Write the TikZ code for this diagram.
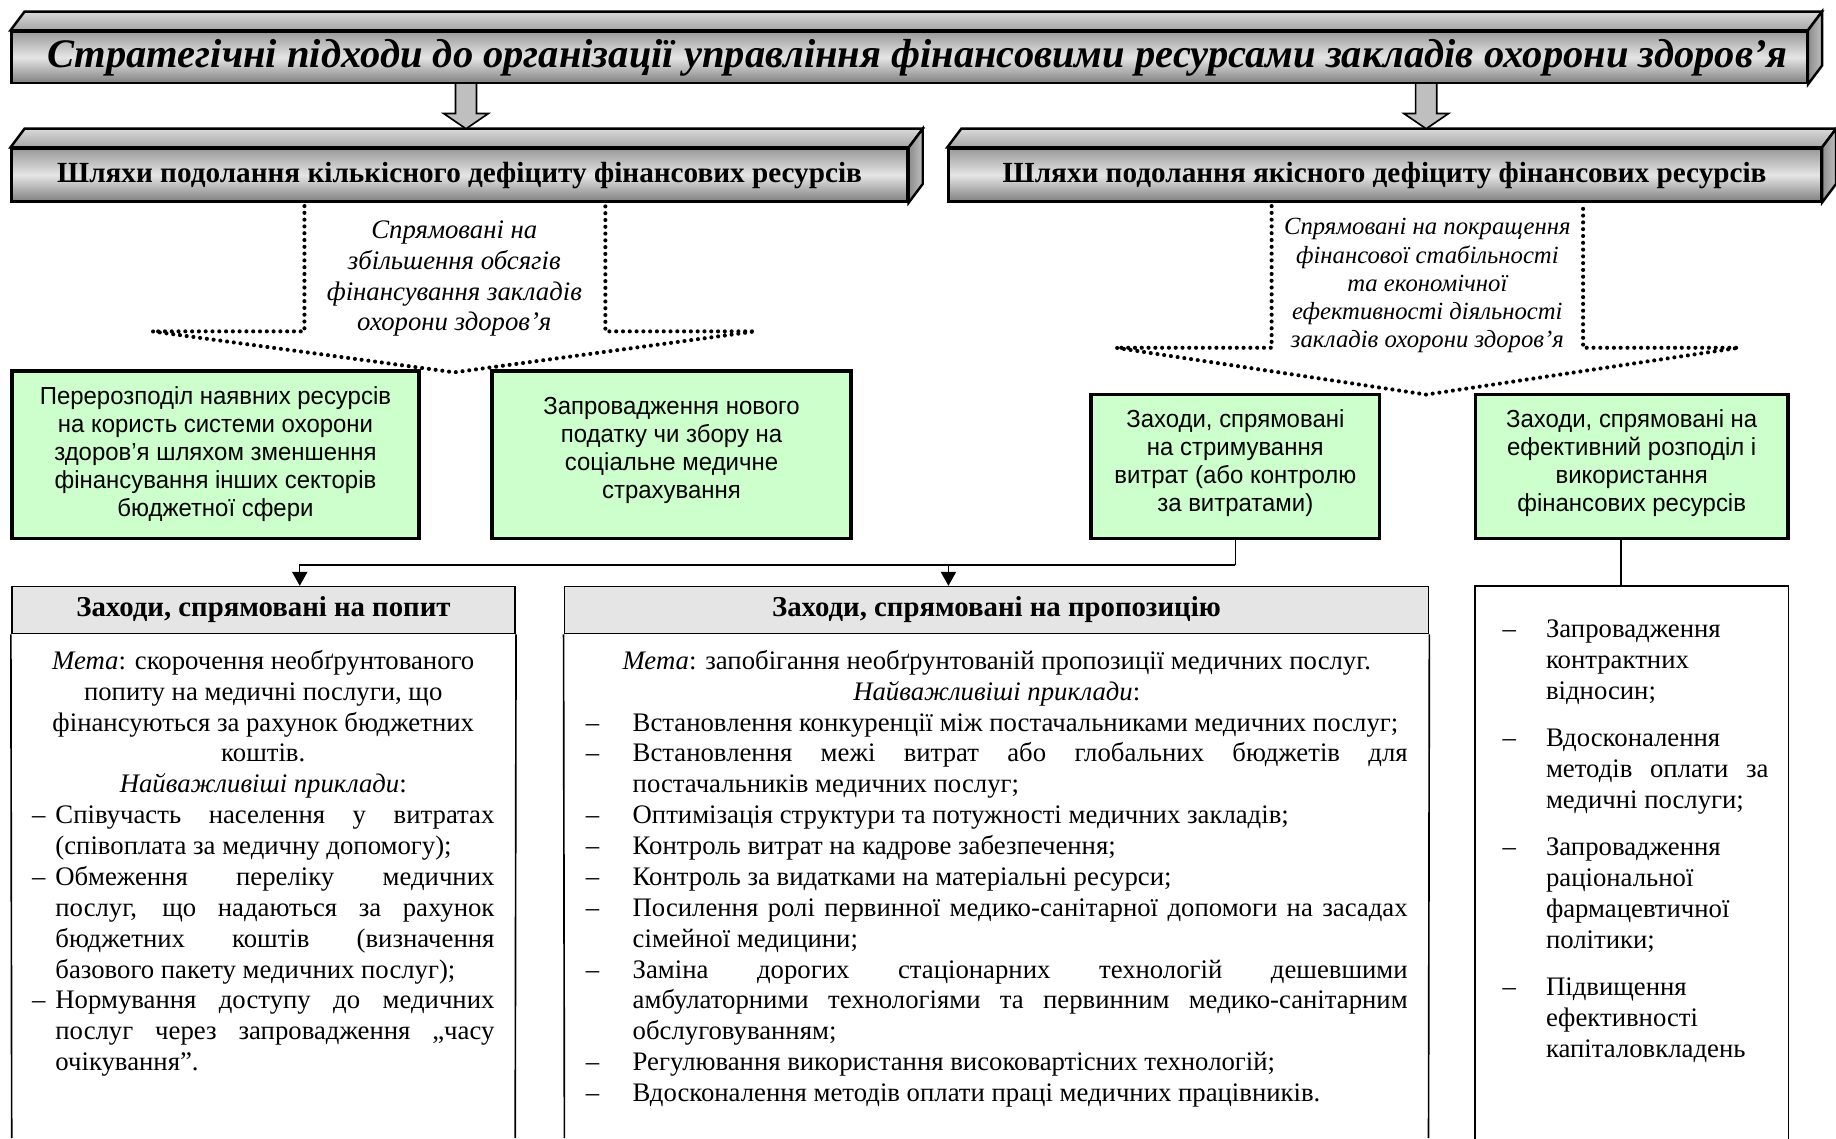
\documentclass[tikz,border=0pt]{standalone}
\usepackage{fontspec}
\setmainfont{Liberation Serif}
\setsansfont{Liberation Sans}
\newfontfamily\narrowsans[FakeStretch=0.97]{Liberation Sans}
\usetikzlibrary{arrows.meta,fit}
\definecolor{greenfill}{RGB}{204,255,204}
\newcommand{\dashitem}[2]{\par\hangindent=#1\hangafter=1\noindent\makebox[#1][l]{–}#2\par}

\begin{document}
\begin{tikzpicture}[x=0.02cm, y=-0.02cm,
  bannerface/.style={draw=black, line width=1.2pt, inner sep=0pt,
    top color=black!40, bottom color=black!50, middle color=black!10},
  topface/.style={draw=black, line width=1.2pt, top color=black!15, bottom color=black!35},
  sideface/.style={draw=black, line width=1.2pt, left color=black!45, right color=black!25},
  bannertext/.style={font=\bfseries\fontsize{14.2}{16}\selectfont},
  blockarrow/.style={draw=black, line width=0.8pt, fill=black!25},
  dotline/.style={line width=2pt, dash pattern=on 0pt off 3.3pt, line cap=round},
  aimtext/.style={align=center, font=\itshape\fontsize{13}{15}\selectfont},
  greenbox/.style={draw=black, line width=1.8pt, fill=greenfill, inner sep=0pt},
  greentext/.style={align=center, font=\narrowsans\fontsize{12}{13.6}\selectfont},
  headbox/.style={draw=black, line width=0.8pt, fill=black!10, inner sep=0pt},
  headtext/.style={font=\bfseries\fontsize{14}{16}\selectfont},
  boxline/.style={line width=0.8pt},
  link/.style={line width=0.7pt},
  tip/.style={-{Triangle[width=7.4pt,length=6.8pt]}},
  bodytext/.style={anchor=north west, inner sep=0pt}
]
  % Define parameters
  \def\dx{12}      % horizontal depth of the bevels
  \def\dy{16}      % vertical depth of the bevels
  \def\ybottom{972} % lower edge of the picture

  \useasboundingbox (0,0) rectangle (1568,\ybottom);

  % Draw the banners
  \node[bannerface, fit={(10,27) (1543,71)}] (title) {};
  \node[bannerface, fit={(10,127) (775,172)}] (qtyway) {};
  \node[bannerface, fit={(810,127) (1555,172)}] (qualway) {};

  % Bevels of the banners
  \foreach \b in {title, qtyway, qualway} {
    \path[topface] (\b.north west) -- ++(\dx,-\dy)
      -- ([shift={(\dx,-\dy)}]\b.north east) -- (\b.north east) -- cycle;
    \path[sideface] (\b.north east) -- ([shift={(\dx,-\dy)}]\b.north east)
      -- ([shift={(\dx,-\dy)}]\b.south east) -- (\b.south east) -- cycle;
  }

  % Banner labels
  \node[font=\bfseries\itshape\fontsize{19.7}{22}\selectfont] (titletext)
    at ([shift={(7,0)}]title.center)
    {Стратегічні підходи до організації управління фінансовими ресурсами закладів охорони здоров’я};
  \node[bannertext] (qtytext) at (qtyway.center)
    {Шляхи подолання кількісного дефіциту фінансових ресурсів};
  \node[bannertext] (qualtext) at (qualway.center)
    {Шляхи подолання якісного дефіциту фінансових ресурсів};

  % Block arrows from the title
  \foreach \x in {398, 1218} {
    \draw[blockarrow] (\x-9,71) -- (\x-9,97) -- (\x-19,97) -- (\x,110)
      -- (\x+19,97) -- (\x+9,97) -- (\x+9,71) -- cycle;
  }

  % Dotted callouts
  \draw[dotline] (260,176) -- (260,283) -- (130,283) -- (388,318)
    -- (645,283) -- (517,283) -- (517,176);
  \draw[dotline] (1086,176) -- (1086,297) -- (953,297) -- (1218,337)
    -- (1485,297) -- (1352,297) -- (1352,176);
  \node[aimtext] (qtyaim) at (388,238)
    {Спрямовані на\\збільшення обсягів\\фінансування закладів\\охорони здоров’я};
  \node[aimtext, font=\itshape\fontsize{12}{13.7}\selectfont] (qualaim) at (1219,244)
    {Спрямовані на покращення\\фінансової стабільності\\та економічної\\ефективності діяльності\\закладів охорони здоров’я};

  % Green boxes
  \node[greenbox, fit={(10,317) (358,460)}] (redistr) {};
  \node[greenbox, fit={(420,317) (727,460)}] (newtax) {};
  \node[greenbox, fit={(932,337) (1178,460)}] (cost) {};
  \node[greenbox, fit={(1260,337) (1527,460)}] (alloc) {};
  \node[greentext] (redistrtext) at ([shift={(0,-1)}]redistr.center)
    {Перерозподіл наявних ресурсів\\на користь системи охорони\\здоров’я шляхом зменшення\\фінансування інших секторів\\бюджетної сфери};
  \node[greentext] (newtaxtext) at ([shift={(0,-4)}]newtax.center)
    {Запровадження нового\\податку чи збору на\\соціальне медичне\\страхування};
  \node[greentext] (costtext) at ([shift={(0,-3)}]cost.center)
    {Заходи, спрямовані\\на стримування\\витрат (або контролю\\за витратами)};
  \node[greentext] (alloctext) at ([shift={(0,-3)}]alloc.center)
    {Заходи, спрямовані на\\ефективний розподіл і\\використання\\фінансових ресурсів};

  % Lower boxes
  \node[headbox, fit={(10,501) (440,541)}] (demandhead) {};
  \node[headbox, fit={(482,501) (1220,541)}] (supplyhead) {};
  \node[inner sep=0pt, fit={(1260,501) (1527,\ybottom)}] (toolsbox) {};
  \node[headtext] (demandtitle) at (demandhead.center) {Заходи, спрямовані на попит};
  \node[headtext] (supplytitle) at (supplyhead.center) {Заходи, спрямовані на пропозицію};
  \draw[boxline] (demandhead.south west) -- (10,\ybottom);
  \draw[boxline] (demandhead.south east) -- (440,\ybottom);
  \draw[boxline] (supplyhead.south west) -- (482,\ybottom);
  \draw[boxline] (supplyhead.south east) -- (1220,\ybottom);
  \draw[boxline] (toolsbox.south west) |- (toolsbox.north east) -- (toolsbox.south east);

  % Connectors
  \draw[link] (cost.south) -- ++(0,21) coordinate (split);
  \draw[link, tip] (split) -| ([shift={(31,0)}]demandhead.north);
  \draw[link, tip] (split) -| ([shift={(-41,0)}]supplyhead.north);
  \draw[link] ([shift={(-9,0)}]alloc.south) -- ([shift={(-9,0)}]toolsbox.north);

  % Texts of the lower boxes
  \node[bodytext] (demandtxt) at (27,555) {\begin{minipage}{7.9cm}
    \fontsize{13}{15}\selectfont\tolerance=10000\hbadness=10000
    \hyphenpenalty=10000\exhyphenpenalty=10000
    {\centering \textit{Мета}: скорочення необґрунтованого\\
    попиту на медичні послуги, що\\
    фінансуються за рахунок бюджетних\\
    коштів.\\
    \textit{Найважливіші приклади}:\par}
    \dashitem{0.4cm}{Співучасть населення у витратах\linebreak
      (співоплата за медичну допомогу);}
    \dashitem{0.4cm}{Обмеження переліку медичних\linebreak
      послуг, що надаються за рахунок\linebreak
      бюджетних коштів (визначення\linebreak
      базового пакету медичних послуг);}
    \dashitem{0.4cm}{Нормування доступу до медичних\linebreak
      послуг через запровадження „часу\linebreak
      очікування”.}
  \end{minipage}};

  \node[bodytext] (supplytxt) at (500,555) {\begin{minipage}{14.04cm}
    \fontsize{13}{15}\selectfont\tolerance=10000\hbadness=10000
    \hyphenpenalty=10000\exhyphenpenalty=10000
    {\centering \textit{Мета}: запобігання необґрунтованій пропозиції медичних послуг.\\
    \textit{Найважливіші приклади}:\par}
    \dashitem{0.8cm}{Встановлення конкуренції між постачальниками медичних послуг;}
    \dashitem{0.8cm}{Встановлення межі витрат або глобальних бюджетів для\linebreak
      постачальників медичних послуг;}
    \dashitem{0.8cm}{Оптимізація структури та потужності медичних закладів;}
    \dashitem{0.8cm}{Контроль витрат на кадрове забезпечення;}
    \dashitem{0.8cm}{Контроль за видатками на матеріальні ресурси;}
    \dashitem{0.8cm}{Посилення ролі первинної медико-санітарної допомоги на засадах\linebreak
      сімейної медицини;}
    \dashitem{0.8cm}{Заміна дорогих стаціонарних технологій дешевшими\linebreak
      амбулаторними технологіями та первинним медико-санітарним\linebreak
      обслуговуванням;}
    \dashitem{0.8cm}{Регулювання використання високовартісних технологій;}
    \dashitem{0.8cm}{Вдосконалення методів оплати праці медичних працівників.}
  \end{minipage}};

  \node[bodytext] (toolstxt) at (1283,529) {\begin{minipage}{4.54cm}
    \fontsize{13}{15}\selectfont\tolerance=10000\hbadness=10000
    \hyphenpenalty=10000\setlength{\parskip}{8pt}
    \dashitem{0.74cm}{Запровадження\newline контрактних\newline відносин;}
    \dashitem{0.74cm}{Вдосконалення\newline методів оплати за\linebreak медичні послуги;}
    \dashitem{0.74cm}{Запровадження\newline раціональної\newline фармацевтичної\newline політики;}
    \dashitem{0.74cm}{Підвищення\newline ефективності\newline капіталовкладень}
  \end{minipage}};

\end{tikzpicture}
\end{document}
